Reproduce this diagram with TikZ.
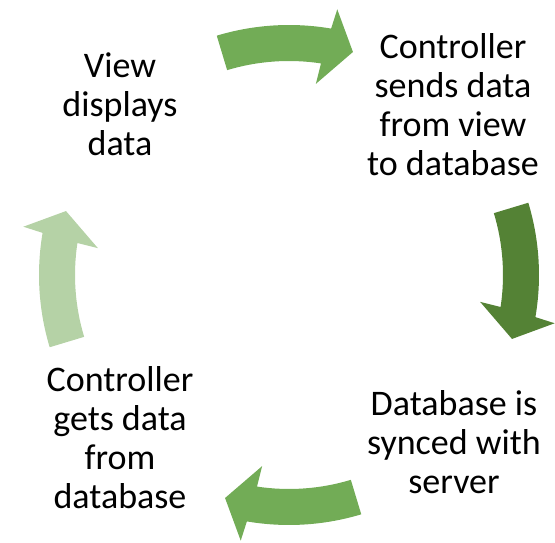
\documentclass[tikz,border=0pt]{standalone}
\usepackage{fontspec}
\setmainfont{Carlito}
\usepackage{tikz}
\usetikzlibrary{positioning}
\definecolor{midgreen}{RGB}{114,172,86}
\definecolor{darkgreen}{RGB}{84,130,53}
\definecolor{palegreen}{RGB}{181,210,166}

% one block arrow of the cycle, #1 = angle of its middle, #2 = colour
\newcommand{\cycarrow}[2]{%
\begin{scope}[shift={(ctr)}, rotate=#1]
  \fill[#2] (16.8:250) arc[start angle=16.8, end angle=-9.7, radius=250]
    -- (-10.3:270) -- (-16:232) -- (-8:193) -- (-8.6:214)
    arc[start angle=-8.6, end angle=16.8, radius=214] -- cycle;
\end{scope}}

\begin{document}
\begin{tikzpicture}[x=1pt,y=1pt,
    step label/.style={align=center, inner sep=0pt,
      font=\fontsize{36}{39}\selectfont}]
\useasboundingbox (0,0) rectangle (555,543);
\coordinate (ctr) at (289,268);

\cycarrow{90}{midgreen}
\cycarrow{0}{darkgreen}
\cycarrow{-90}{midgreen}
\cycarrow{180}{palegreen}

\node[step label] (view) at (120,439) {View\\displays\\data};
\node[step label] (send) at (453,438) {Controller\\sends data\\from view\\to database};
\node[step label] (sync) at (454,101) {Database is\\synced with\\server};
\node[step label] (gets) at (120,105) {Controller\\gets data\\from\\database};
\end{tikzpicture}
\end{document}
